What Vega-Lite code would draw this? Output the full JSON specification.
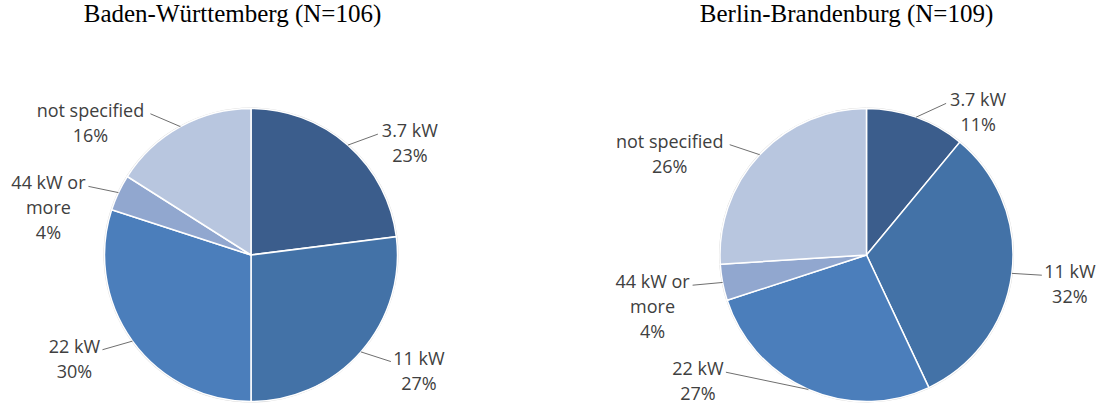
{
  "$schema": "https://vega.github.io/schema/vega-lite/v6.json",
  "background": "white",
  "padding": {"left": 0, "top": 2, "right": 0, "bottom": 0},
  "bounds": "flush",
  "spacing": 120,
  "config": {
    "view": {"stroke": null},
    "title": {"font": "Liberation Serif", "fontSize": 25, "fontWeight": "normal", "color": "#000000", "anchor": "middle", "baseline": "alphabetic", "offset": 23},
    "text": {"font": "Open Sans", "fontSize": 18, "color": "#404040", "lineBreak": "\n", "lineHeight": 25}
  },
  "data": {
    "values": [
      {"region": "Baden-Württemberg (N=106)", "ord": 1, "cat": "3.7 kW", "label": "3.7 kW", "pct": 23},
      {"region": "Baden-Württemberg (N=106)", "ord": 2, "cat": "11 kW", "label": "11 kW", "pct": 27},
      {"region": "Baden-Württemberg (N=106)", "ord": 3, "cat": "22 kW", "label": "22 kW", "pct": 30},
      {"region": "Baden-Württemberg (N=106)", "ord": 4, "cat": "44 kW or more", "label": "44 kW or\nmore", "pct": 4},
      {"region": "Baden-Württemberg (N=106)", "ord": 5, "cat": "not specified", "label": "not specified", "pct": 16},
      {"region": "Berlin-Brandenburg (N=109)", "ord": 1, "cat": "3.7 kW", "label": "3.7 kW", "pct": 11},
      {"region": "Berlin-Brandenburg (N=109)", "ord": 2, "cat": "11 kW", "label": "11 kW", "pct": 32},
      {"region": "Berlin-Brandenburg (N=109)", "ord": 3, "cat": "22 kW", "label": "22 kW", "pct": 27},
      {"region": "Berlin-Brandenburg (N=109)", "ord": 4, "cat": "44 kW or more", "label": "44 kW or\nmore", "pct": 4},
      {"region": "Berlin-Brandenburg (N=109)", "ord": 5, "cat": "not specified", "label": "not specified", "pct": 26}
    ]
  },
  "transform": [
    {"joinaggregate": [{"op": "sum", "field": "pct", "as": "total"}], "groupby": ["region"]},
    {"window": [{"op": "sum", "field": "pct", "as": "cum"}], "groupby": ["region"], "sort": [{"field": "ord"}], "frame": [null, 0]},
    {"calculate": "2 * PI * (datum.cum - datum.pct / 2) / datum.total", "as": "mid"},
    {"calculate": "sin(datum.mid)", "as": "ex"},
    {"calculate": "cos(datum.mid)", "as": "ey"},
    {"calculate": "datum.ex >= 0 ? 1 : -1", "as": "side"},
    {"calculate": "clamp(1.1 * datum.ey, -0.8, 2)", "as": "ly"},
    {"calculate": "abs(datum.ly - 1.1 * datum.ey) > 0.001 ? sqrt(max(0, 1.21 - datum.ly * datum.ly)) : abs(datum.ex)", "as": "reach"},
    {"calculate": "datum.side * (datum.reach + 30 / 146.5)", "as": "lx"},
    {"calculate": "datum.label + '\\n' + datum.pct + '%'", "as": "txt"},
    {"calculate": "8 * length(split(datum.label, '\\n')[0]) + 10", "as": "tw"},
    {"calculate": "datum.lx + datum.side * (3 + datum.tw / 2) / 146.5", "as": "tx"}
  ],
  "hconcat": [
    {
      "title": {"text": "Baden-Württemberg (N=106)", "dx": -2.5},
      "width": 470,
      "height": 357,
      "transform": [{"filter": "datum.region === 'Baden-Württemberg (N=106)'"}],
      "layer": [
        {
          "mark": {"type": "arc", "radius": 147.5, "fill": "#d4d4d4"},
          "encoding": {
            "theta": {"field": "pct", "type": "quantitative", "stack": true},
            "order": {"field": "ord"},
            "x": {"datum": 0, "type": "quantitative", "scale": {"domain": [-1.7133, 1.4949]}, "axis": null},
            "y": {"datum": 0, "type": "quantitative", "scale": {"domain": [-1.0375, 1.3993]}, "axis": null}
          }
        },
        {
          "mark": {"type": "arc", "radius": 146.5, "stroke": "white", "strokeWidth": 1.5},
          "encoding": {
            "theta": {"field": "pct", "type": "quantitative", "stack": true},
            "order": {"field": "ord"},
            "color": {"field": "cat", "type": "nominal", "legend": null,
              "scale": {"domain": ["3.7 kW", "11 kW", "22 kW", "44 kW or more", "not specified"],
                        "range": ["#3b5d8c", "#4372a7", "#4b7ebb", "#91a7cf", "#b8c6df"]}},
            "x": {"datum": 0, "type": "quantitative", "scale": {"domain": [-1.7133, 1.4949]}, "axis": null},
            "y": {"datum": 0, "type": "quantitative", "scale": {"domain": [-1.0375, 1.3993]}, "axis": null}
          }
        },
        {
          "mark": {"type": "rule", "color": "#6f6f6f", "strokeWidth": 1},
          "encoding": {
            "x": {"field": "ex", "type": "quantitative", "scale": {"domain": [-1.7133, 1.4949]}, "axis": null},
            "y": {"field": "ey", "type": "quantitative", "scale": {"domain": [-1.0375, 1.3993]}, "axis": null},
            "x2": {"field": "lx"},
            "y2": {"field": "ly"}
          }
        },
        {
          "mark": {"type": "text", "align": "center", "baseline": "top", "dy": -11},
          "encoding": {
            "x": {"field": "tx", "type": "quantitative", "scale": {"domain": [-1.7133, 1.4949]}, "axis": null},
            "y": {"field": "ly", "type": "quantitative", "scale": {"domain": [-1.0375, 1.3993]}, "axis": null},
            "text": {"field": "txt", "type": "nominal"}
          }
        }
      ]
    },
    {
      "title": {"text": "Berlin-Brandenburg (N=109)", "dx": 1.5},
      "width": 510,
      "height": 357,
      "transform": [{"filter": "datum.region === 'Berlin-Brandenburg (N=109)'"}],
      "layer": [
        {
          "mark": {"type": "arc", "radius": 147.5, "fill": "#d4d4d4"},
          "encoding": {
            "theta": {"field": "pct", "type": "quantitative", "stack": true},
            "order": {"field": "ord"},
            "x": {"datum": 0, "type": "quantitative", "scale": {"domain": [-1.8874, 1.5939]}, "axis": null},
            "y": {"datum": 0, "type": "quantitative", "scale": {"domain": [-1.0375, 1.3993]}, "axis": null}
          }
        },
        {
          "mark": {"type": "arc", "radius": 146.5, "stroke": "white", "strokeWidth": 1.5},
          "encoding": {
            "theta": {"field": "pct", "type": "quantitative", "stack": true},
            "order": {"field": "ord"},
            "color": {"field": "cat", "type": "nominal", "legend": null,
              "scale": {"domain": ["3.7 kW", "11 kW", "22 kW", "44 kW or more", "not specified"],
                        "range": ["#3b5d8c", "#4372a7", "#4b7ebb", "#91a7cf", "#b8c6df"]}},
            "x": {"datum": 0, "type": "quantitative", "scale": {"domain": [-1.8874, 1.5939]}, "axis": null},
            "y": {"datum": 0, "type": "quantitative", "scale": {"domain": [-1.0375, 1.3993]}, "axis": null}
          }
        },
        {
          "mark": {"type": "rule", "color": "#6f6f6f", "strokeWidth": 1},
          "encoding": {
            "x": {"field": "ex", "type": "quantitative", "scale": {"domain": [-1.8874, 1.5939]}, "axis": null},
            "y": {"field": "ey", "type": "quantitative", "scale": {"domain": [-1.0375, 1.3993]}, "axis": null},
            "x2": {"field": "lx"},
            "y2": {"field": "ly"}
          }
        },
        {
          "mark": {"type": "text", "align": "center", "baseline": "top", "dy": -11},
          "encoding": {
            "x": {"field": "tx", "type": "quantitative", "scale": {"domain": [-1.8874, 1.5939]}, "axis": null},
            "y": {"field": "ly", "type": "quantitative", "scale": {"domain": [-1.0375, 1.3993]}, "axis": null},
            "text": {"field": "txt", "type": "nominal"}
          }
        }
      ]
    }
  ]
}
